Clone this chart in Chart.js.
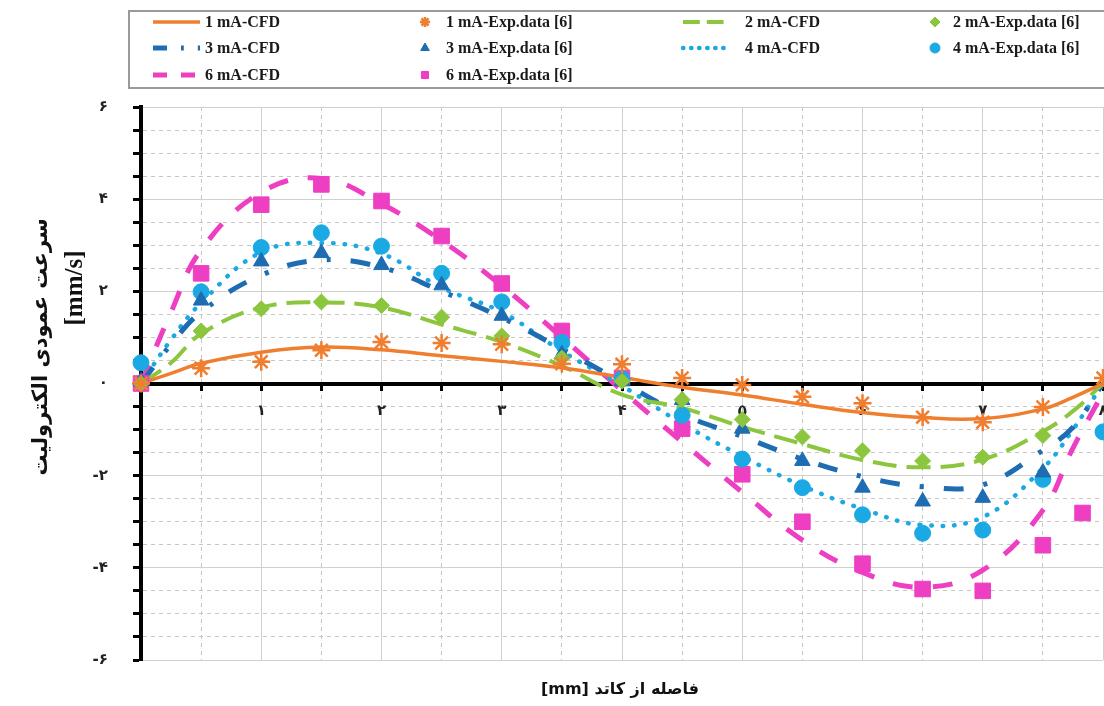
<!DOCTYPE html>
<html>
<head>
<meta charset="utf-8">
<title>Electrolyte vertical velocity vs distance from cathode</title>
<script src="https://cdn.jsdelivr.net/npm/chart.js@4.4.1/dist/chart.umd.min.js"></script>
<style>
  html, body { margin: 0; padding: 0; background: #fff; }
  #wrap { position: relative; width: 1104px; height: 706px; }
</style>
</head>
<body>
<div id="wrap"><canvas id="velChart"></canvas></div>
<script>
// CFD curves (x = distance from cathode, mm)
const cfdX = [0, 0.25, 0.5, 1, 1.5, 2, 2.5, 3, 3.5, 4, 4.5, 5, 5.5, 6, 6.5, 7, 7.5, 7.75, 8];
const cfd1 = [0, 0.22, 0.44, 0.68, 0.79, 0.73, 0.6, 0.48, 0.34, 0.13, -0.08, -0.25, -0.45, -0.63, -0.74, -0.76, -0.55, -0.3, 0];
const cfd2 = [0, 0.45, 1.08, 1.65, 1.76, 1.65, 1.28, 0.9, 0.38, -0.24, -0.53, -0.94, -1.31, -1.66, -1.82, -1.65, -1.04, -0.6, 0];
const cfd3 = [0, 0.85, 1.55, 2.35, 2.68, 2.52, 2.0, 1.43, 0.75, 0.03, -0.67, -1.15, -1.64, -2.02, -2.24, -2.2, -1.45, -0.95, 0];
const cfd4 = [0, 0.95, 1.75, 2.85, 3.05, 2.82, 2.08, 1.55, 0.7, -0.05, -0.87, -1.58, -2.22, -2.72, -3.07, -2.9, -1.84, -1.0, 0];
const cfd6 = [0, 1.55, 2.9, 4.15, 4.45, 3.9, 3.1, 2.12, 1.0, -0.15, -1.27, -2.36, -3.4, -4.1, -4.42, -4.05, -2.75, -1.4, -0.2];

// experimental data [6]
const expX = [0, 0.5, 1, 1.5, 2, 2.5, 3, 3.5, 4, 4.5, 5, 5.5, 6, 6.5, 7, 7.5, 8];
const exp1 = [0, 0.33, 0.47, 0.72, 0.9, 0.88, 0.85, 0.43, 0.42, 0.12, -0.03, -0.29, -0.43, -0.73, -0.84, -0.51, 0.12];
const exp2 = [0, 1.14, 1.62, 1.77, 1.69, 1.44, 1.03, 0.55, 0.05, -0.35, -0.78, -1.16, -1.46, -1.68, -1.6, -1.13, null];
const exp3 = [0.05, 1.8, 2.65, 2.83, 2.57, 2.13, 1.47, 0.63, 0.05, -0.36, -0.98, -1.68, -2.26, -2.56, -2.48, -1.93, null];
const exp4 = [0.45, 1.99, 2.95, 3.27, 2.98, 2.39, 1.77, 0.89, 0.1, -0.69, -1.64, -2.26, -2.85, -3.25, -3.18, -2.08, -1.05];
const exp6X = [0, 0.5, 1, 1.5, 2, 2.5, 3, 3.5, 4, 4.5, 5, 5.5, 6, 6.5, 7, 7.5, 7.83];
const exp6 = [0, 2.39, 3.88, 4.32, 3.96, 3.2, 2.17, 1.14, 0.12, -0.98, -1.97, -3.0, -3.91, -4.46, -4.5, -3.51, -2.81];

const yTitle = ['سرعت عمودی الکترولیت', '[mm/s]'];
const xTitle = 'فاصله از کاتد [mm]';

const ORANGE = '#EF7E2F';
const GREEN  = '#8CC63E';
const NAVY   = '#1E6CB2';
const CYAN   = '#1BA9E4';
const PINK   = '#EE3EC2';

const FA_DIGITS = '۰۱۲۳۴۵۶۷۸۹';
const fa = v => String(v).replace(/\d/g, d => FA_DIGITS[d]);
const pts = (xs, ys) => xs.map((x, i) => ({ x, y: ys[i] }));
const isMajorX = v => Math.abs(v % 1) < 1e-6;
const isMajorY = v => Math.abs(v % 2) < 1e-6;

function cfdLine(label, ys, color, dash, width) {
  return { label, data: pts(cfdX, ys), showLine: true, borderColor: color, backgroundColor: color,
           borderWidth: width, borderDash: dash, borderCapStyle: dash.length && dash[0] < 2 ? 'round' : 'butt',
           pointRadius: 0, tension: 0.4, order: 1 };
}
function expPoints(label, xs, ys, color, style, r) {
  return { label, data: pts(xs, ys), showLine: false, pointStyle: style, pointRadius: r,
           borderColor: color, backgroundColor: color, pointBorderWidth: style === 'star' ? 2.5 : 1,
           clip: 12, order: 0 };
}

// legend: 4 columns x 3 rows inside a grey frame above the plot
const legendBox = {
  id: 'legendBox',
  afterDraw(chart) {
    const ctx = chart.ctx;
    const cols = [{ s: 153, t: 205 }, { s: 425, t: 446 }, { s: 683, t: 745 }, { s: 935, t: 953 }];
    const rows = [22, 48, 75];
    ctx.save();
    ctx.strokeStyle = '#9a9a9a';
    ctx.lineWidth = 2;
    ctx.strokeRect(129, 11, 1000, 77);
    ctx.font = 'bold 16px "Liberation Serif"';
    ctx.textBaseline = 'middle';
    chart.data.datasets.forEach((ds, i) => {
      const c = cols[i % 4], y = rows[Math.floor(i / 4)];
      if (ds.showLine) {
        ctx.save();
        ctx.strokeStyle = ds.borderColor;
        ctx.lineWidth = ds.borderWidth;
        ctx.lineCap = ds.borderCapStyle;
        ctx.setLineDash(ds.borderDash.map(d => d * 0.7));
        ctx.beginPath(); ctx.moveTo(c.s, y); ctx.lineTo(c.s + 47, y); ctx.stroke();
        ctx.restore();
      } else {
        ctx.save();
        ctx.fillStyle = ds.backgroundColor;
        ctx.strokeStyle = ds.borderColor;
        ctx.lineWidth = ds.pointBorderWidth;
        Chart.helpers.drawPoint(ctx, { pointStyle: ds.pointStyle, radius: 5, rotation: 0, borderWidth: ds.pointBorderWidth }, c.s, y);
        ctx.restore();
      }
      ctx.fillStyle = '#1a1a1a';
      ctx.fillText(ds.label, c.t, y + 1);
    });
    ctx.restore();
  }
};

// axis titles (Persian, right-to-left)
const axisTitles = {
  id: 'axisTitles',
  afterDraw(chart) {
    const ctx = chart.ctx;
    ctx.save();
    ctx.fillStyle = '#111';
    ctx.textAlign = 'center';
    ctx.textBaseline = 'middle';
    ctx.direction = 'rtl';
    ctx.font = 'bold 16px "DejaVu Sans"';
    ctx.fillText(xTitle, 620, 690);

    ctx.save();
    ctx.translate(42, 347);
    ctx.rotate(-Math.PI / 2);
    ctx.font = 'bold 21px "DejaVu Sans"';
    ctx.fillText(yTitle[0], 0, 0);
    ctx.restore();

    ctx.translate(76, 288);
    ctx.rotate(-Math.PI / 2);
    ctx.direction = 'ltr';
    ctx.font = 'bold 25px "Liberation Serif"';
    ctx.fillText(yTitle[1], 0, 0);
    ctx.restore();
  }
};

const tickFont = { family: 'DejaVu Sans', size: 15, weight: 'bold' };

new Chart(document.getElementById('velChart'), {
  type: 'scatter',
  data: {
    datasets: [
      cfdLine('1 mA-CFD', cfd1, ORANGE, [], 3.5),
      expPoints('1 mA-Exp.data [6]', expX, exp1, ORANGE, 'star', 9),
      cfdLine('2 mA-CFD', cfd2, GREEN, [24, 10], 4),
      expPoints('2 mA-Exp.data [6]', expX, exp2, GREEN, 'rectRot', 8),
      cfdLine('3 mA-CFD', cfd3, NAVY, [20, 20, 4, 20], 5),
      expPoints('3 mA-Exp.data [6]', expX, exp3, NAVY, 'triangle', 9),
      cfdLine('4 mA-CFD', cfd4, CYAN, [0.5, 11], 4.5),
      expPoints('4 mA-Exp.data [6]', expX, exp4, CYAN, 'circle', 8),
      cfdLine('6 mA-CFD', cfd6, PINK, [20, 20], 5),
      expPoints('6 mA-Exp.data [6]', exp6X, exp6, PINK, 'rect', 11)
    ]
  },
  options: {
    responsive: true,
    maintainAspectRatio: false,
    animation: false,
    layout: { autoPadding: false, padding: { top: 107, left: 10, right: 1, bottom: 46 } },
    plugins: { legend: { display: false }, tooltip: { enabled: false } },
    scales: {
      x: {
        type: 'linear', position: { y: 0 }, min: 0, max: 8,
        afterFit: s => { s.height = 0; s.paddingLeft = 0; s.paddingRight = 0; },
        ticks: { stepSize: 0.5, autoSkip: false, maxRotation: 0, padding: 14, color: '#222', font: tickFont,
                 callback: v => (isMajorX(v) && v !== 0) ? fa(v) : '' },
        grid: { color: c => (c.tick && !isMajorX(c.tick.value)) ? '#c6c6c6' : '#d0d0d0',
                tickColor: '#000', tickWidth: 3, tickLength: 5 },
        border: { color: '#000', width: 4, dash: c => (c.tick && !isMajorX(c.tick.value)) ? [4, 4] : [] }
      },
      y: {
        min: -6, max: 6,
        afterFit: s => { s.width = 131; },
        ticks: { stepSize: 0.5, autoSkip: false, padding: 25, color: '#222', font: tickFont,
                 callback: v => isMajorY(v) ? fa(v) : '' },
        grid: { color: c => (c.tick && !isMajorY(c.tick.value)) ? '#c6c6c6' : '#d0d0d0',
                tickColor: '#000', tickWidth: 3, tickLength: 8 },
        border: { color: '#000', width: 4, dash: c => (c.tick && !isMajorY(c.tick.value)) ? [4, 4] : [] }
      }
    }
  },
  plugins: [legendBox, axisTitles]
});
</script>
</body>
</html>
